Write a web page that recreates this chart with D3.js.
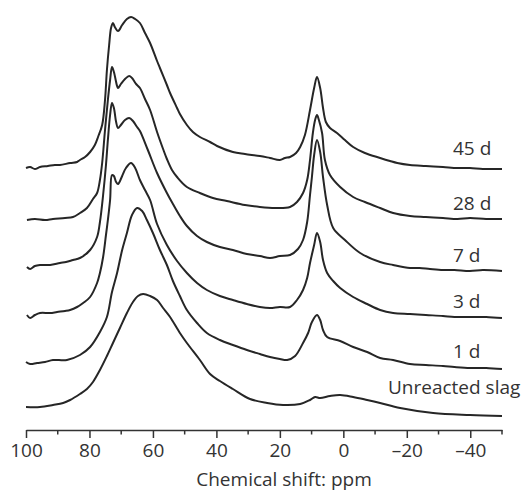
<!DOCTYPE html>
<html><head><meta charset="utf-8">
<script src="https://cdn.jsdelivr.net/npm/d3@7/dist/d3.min.js"></script>
<style>
html,body{margin:0;padding:0;background:#fff;}
svg{display:block;}
text{font-family:"Open Sans",sans-serif;fill:#333;}
</style></head>
<body>
<script>
// ---------- DATA ----------
const seriesNames = ["45 d", "28 d", "7 d", "3 d", "1 d", "Unreacted slag"];
const seriesOffsets = [261, 211, 159, 112, 61, 14];

const s45d = [[100,1],[98.7,2],[97.2,0],[95.6,2],[93.1,3],[90.9,4],[89.3,4],[86.1,6],[83.9,7],[83.0,9],[81.4,12],[79.8,17],[78.3,24],[77.3,32],[76.0,44],[75.1,69],[74.5,99],[73.8,124],[73.2,141],[72.6,146],[72.0,142],[71.0,138],[69.7,144],[68.2,150],[66.9,152],[65.6,150],[64.1,146],[62.5,136],[60.9,126],[58.7,108],[57.8,101],[55.6,84],[54.6,76],[52.4,61],[51.5,55],[49.3,44],[47.4,37],[45.2,32],[42.0,27],[39.8,23],[34.8,17],[31.0,15],[26.3,13],[23.1,11],[20.0,9],[18.4,11],[16.8,12],[14.9,16],[13.6,22],[12.1,34],[10.5,59],[9.2,81],[8.3,92],[7.3,81],[6.4,61],[5.5,47],[4.2,41],[2.0,36],[-0.5,29],[-3.1,22],[-6.8,16],[-11.6,11],[-14.7,8],[-17.0,6],[-21.0,4],[-26.0,3],[-31.4,2],[-36.0,1],[-39.9,1],[-44.0,0],[-50,0]];

const s28d = [[99.7,-1],[97.2,0],[94.0,-1],[91.5,0],[87.7,1],[85.2,2],[83.0,6],[80.8,11],[78.9,20],[77.6,26],[76.7,39],[76.0,56],[75.1,89],[74.2,119],[73.5,139],[72.9,152],[72.3,147],[71.3,133],[71.0,131],[70.1,135],[68.8,140],[67.5,143],[66.6,141],[65.3,135],[64.1,131],[62.5,120],[60.9,109],[58.7,87],[56.8,70],[55.6,60],[54.0,49],[52.4,42],[49.3,32],[45.2,26],[41.1,21],[36.7,18],[31.0,14],[26.3,12],[21.5,11],[16.8,12],[14.6,17],[12.7,26],[11.4,39],[10.5,59],[9.6,86],[8.9,99],[8.3,104],[7.7,99],[6.7,86],[5.8,59],[4.2,44],[1.0,32],[-3.1,22],[-6.8,17],[-11.6,11],[-15.7,6],[-21.0,3],[-26.0,2],[-31.4,1],[-36.0,0],[-39.9,1],[-45.0,0],[-50,0]];

const s7d = [[99.7,4],[98.7,2],[97.2,5],[95.6,6],[92.4,6],[89.3,8],[87.4,9],[85.2,11],[83.0,13],[79.8,21],[77.6,34],[76.7,49],[75.7,76],[74.8,106],[74.2,131],[73.5,156],[72.9,168],[72.3,163],[71.6,149],[71.0,143],[70.1,146],[68.8,151],[67.5,153],[66.3,150],[65.0,144],[64.1,140],[61.6,121],[58.7,98],[55.6,78],[53.7,67],[51.5,55],[49.3,45],[46.1,35],[43.0,29],[38.9,24],[34.8,21],[30.4,17],[26.3,15],[23.1,13],[20.0,15],[16.8,16],[14.3,22],[12.7,31],[11.4,49],[10.5,76],[9.9,94],[9.2,116],[8.3,131],[7.3,119],[6.4,94],[5.1,66],[3.2,43],[-0.5,31],[-5.3,18],[-11.6,9],[-15.7,6],[-21.0,3],[-24.0,3],[-27.3,2],[-31.4,1],[-35.0,1],[-39.9,0],[-44.0,1],[-50,0]];

const s3d = [[99.7,3],[98.7,0],[97.2,3],[95.6,5],[92.4,5],[90.2,6],[87.7,7],[86.1,8],[83.9,11],[82.0,15],[79.8,21],[77.6,35],[76.7,45],[75.7,61],[74.8,83],[74.2,98],[73.5,118],[72.9,143],[72.3,142],[71.6,136],[71.0,134],[69.7,142],[68.5,150],[66.9,155],[65.6,150],[64.1,138],[62.5,128],[60.9,118],[58.7,94],[55.6,73],[52.4,57],[49.3,45],[46.1,35],[43.0,28],[38.9,22],[34.8,18],[30.4,14],[26.3,11],[23.1,10],[20.0,11],[16.8,11],[14.6,18],[12.7,28],[11.4,40],[10.5,55],[9.2,73],[8.3,85],[7.3,76],[6.4,58],[5.1,45],[3.2,37],[1.0,30],[-3.1,21],[-7.5,14],[-11.6,8],[-15.7,5],[-21.0,4],[-26.0,3],[-31.4,2],[-35.0,1],[-39.9,1],[-45.0,1],[-50,0]];

const s1d = [[100,7],[98.7,5],[96.5,6],[94.0,7],[91.5,9],[87.1,9],[83.0,14],[79.8,22],[76.7,37],[74.5,52],[72.9,77],[71.3,96],[69.7,119],[68.2,136],[66.6,154],[65.0,161],[63.4,158],[61.9,149],[60.0,136],[57.8,119],[55.6,104],[53.7,88],[51.5,73],[49.3,59],[46.1,46],[43.0,36],[38.9,29],[34.8,24],[30.4,19],[26.3,15],[23.1,12],[20.0,10],[17.7,9],[15.2,13],[12.7,26],[11.1,36],[9.9,47],[8.3,54],[7.3,49],[6.4,39],[5.1,32],[1.0,28],[-3.1,22],[-7.5,17],[-11.6,11],[-15.7,9],[-21.0,5],[-26.0,4],[-31.4,3],[-35.0,2],[-39.9,1],[-45.0,1],[-50,0]];

const sUnreacted = [[100,9],[95.6,9],[91.5,11],[88.3,13],[86.1,16],[83.0,22],[80.8,27],[78.9,34],[76.7,46],[74.5,60],[72.6,73],[70.4,88],[68.2,103],[66.3,114],[64.7,120],[63.1,122],[60.9,120],[58.7,116],[56.8,108],[54.6,99],[51.5,83],[49.3,73],[45.2,56],[42.0,42],[38.9,35],[34.8,27],[29.4,17],[24.0,13],[19.0,11],[13.6,12],[10.5,16],[8.9,19],[7.3,18],[4.2,20],[1.0,21],[-3.1,19],[-7.5,16],[-11.6,13],[-17.9,8],[-28.3,3],[-39.9,1],[-50,0]];

const seriesValues = [s45d, s28d, s7d, s3d, s1d, sUnreacted];

const majorTicks = [100, 80, 60, 40, 20, 0, -20, -40];
const tickLabels = ["100", "80", "60", "40", "20", "0", "\u201320", "\u201340"];
const minorTicks = [90, 70, 50, 30, 10, -10, -30, -50];
const xTitle = "Chemical shift: ppm";

// ---------- DRAWING ----------
const W = 522, H = 492;
const svg = d3.select("body").append("svg").attr("width", W).attr("height", H);

const x = d3.scaleLinear().domain([100, -50]).range([26, 502]);
const y = d3.scaleLinear().domain([0, 430]).range([430, 0]);

const line = d3.line().x(d => x(d[0])).y(d => y(d[1])).curve(d3.curveCatmullRom.alpha(0.5));

seriesValues.forEach((s, i) => {
  const off = seriesOffsets[i];
  svg.append("path")
    .datum(s.map(p => [p[0], p[1] + off]))
    .attr("d", line)
    .attr("fill", "none")
    .attr("stroke", "#262626")
    .attr("stroke-width", 2)
    .attr("stroke-linejoin", "round");
});

// labels
const labelLayout = [
  {x: 453, dy: 14}, {x: 453, dy: 9}, {x: 453, dy: 9},
  {x: 453, dy: 10}, {x: 453, dy: 11}, {x: 388, dy: 22}
];
seriesNames.forEach((n, i) => {
  svg.append("text")
    .attr("x", labelLayout[i].x)
    .attr("y", y(seriesOffsets[i]) - labelLayout[i].dy)
    .attr("font-size", 19)
    .text(n);
});

// axis
const axisG = svg.append("g").attr("transform", "translate(0,430)");
axisG.call(d3.axisBottom(x).tickValues(majorTicks).tickSize(8).tickSizeOuter(0)
  .tickFormat((d, i) => tickLabels[i]).tickPadding(6));
axisG.select(".domain").attr("stroke", "#333").attr("stroke-width", 1.5);
axisG.selectAll(".tick line").attr("stroke", "#333").attr("stroke-width", 1.5);
axisG.selectAll(".tick text").attr("font-size", 19).attr("font-family", "Open Sans, sans-serif").attr("fill", "#333");

const minorG = svg.append("g").attr("transform", "translate(0,430)");
minorG.selectAll("line").data(minorTicks).join("line")
  .attr("x1", d => x(d)).attr("x2", d => x(d))
  .attr("y1", 0).attr("y2", 4.5)
  .attr("stroke", "#333").attr("stroke-width", 1.5);

svg.append("text")
  .attr("x", 284).attr("y", 486)
  .attr("text-anchor", "middle")
  .attr("font-size", 19)
  .text(xTitle);
</script>
</body></html>
